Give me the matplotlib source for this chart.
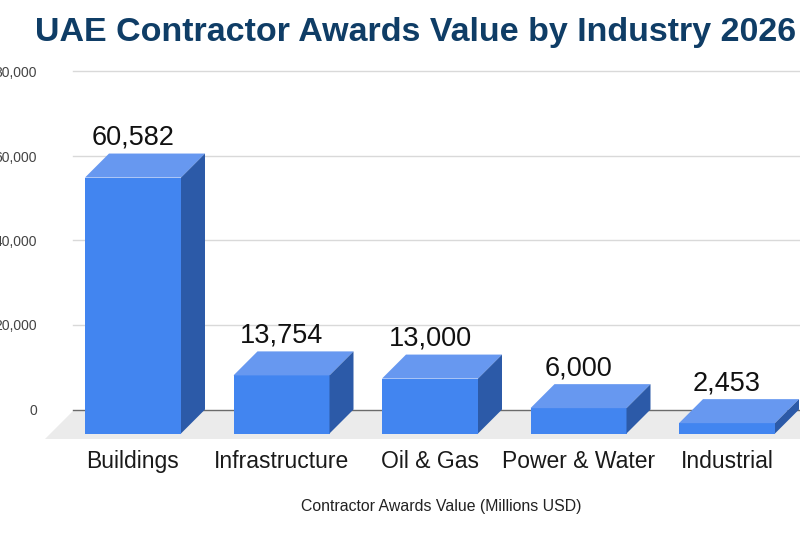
#!/usr/bin/env python3
"""UAE contractor awards by industry, drawn as a pseudo-3D column chart."""

import matplotlib

matplotlib.use("Agg")
import matplotlib.pyplot as plt
from matplotlib.patches import Polygon

INDUSTRIES = ["Buildings", "Infrastructure", "Oil & Gas", "Power & Water", "Industrial"]
AWARDS = [60582, 13754, 13000, 6000, 2453]
Y_TICKS = [0, 20000, 40000, 60000, 80000]

FRONT = "#4285f0"
TOP = "#6798f0"
SIDE = "#2c5aa8"
TITLE_COLOR = "#0f3d66"

WIDTH, HEIGHT = 800, 533
PX_PER_CAT = 148.5
PX_PER_UNIT = 84.5 / 20000
BAR_WIDTH = 96 / PX_PER_CAT
# extrusion of the columns, 24 px both ways
DX = 24 / PX_PER_CAT
DY = 24 / PX_PER_UNIT

plt.rcParams["font.family"] = ["Liberation Sans", "DejaVu Sans"]


def draw_column(ax, x, value):
    left, right = x - BAR_WIDTH / 2, x + BAR_WIDTH / 2
    ax.bar(x, value, width=BAR_WIDTH, bottom=-DY, color=FRONT, zorder=3, clip_on=False)
    front_top = value - DY
    ax.add_patch(Polygon(
        [(left, front_top), (right, front_top), (right + DX, value), (left + DX, value)],
        closed=True, facecolor=TOP, edgecolor="none", zorder=3, clip_on=False,
    ))
    ax.add_patch(Polygon(
        [(right, -DY), (right + DX, 0), (right + DX, value), (right, front_top)],
        closed=True, facecolor=SIDE, edgecolor="none", zorder=3, clip_on=False,
    ))


def main():
    fig = plt.figure(figsize=(WIDTH / 100, HEIGHT / 100), dpi=100)
    # plot area: x 73-800 px, zero line at y=409.5 px, 80,000 at y=71.5 px
    ax = fig.add_axes([73 / WIDTH, 1 - 409.5 / HEIGHT, 727 / WIDTH, 338 / HEIGHT])
    ax.set_xlim((73 - 133) / PX_PER_CAT, (800 - 133) / PX_PER_CAT)
    ax.set_ylim(0, 80000)
    ax.patch.set_visible(False)
    for spine in ax.spines.values():
        spine.set_visible(False)

    for tick in Y_TICKS:
        color = "#6b6b6b" if tick == 0 else "#d9d9d9"
        ax.axhline(tick, color=color, linewidth=1.0, zorder=1, clip_on=False)

    # grey floor under the columns
    x0, x1 = ax.get_xlim()
    floor_y = -29 / PX_PER_UNIT
    ax.add_patch(Polygon(
        [(x0, -1.5 / PX_PER_UNIT), (x1, -1.5 / PX_PER_UNIT), (x1, floor_y), (x0 - 28 / PX_PER_CAT, floor_y)],
        closed=True, facecolor="#ebebeb", edgecolor="none", zorder=0, clip_on=False,
    ))

    for i, value in enumerate(AWARDS):
        draw_column(ax, i, value)
        ax.annotate(f"{value:,}", (i, value), xytext=(0, 3), textcoords="offset pixels",
                    ha="center", va="bottom", fontsize=19.5, color="#111111",
                    annotation_clip=False, zorder=4)

    ax.set_xticks(range(len(INDUSTRIES)))
    ax.set_xticklabels(INDUSTRIES, fontsize=16.5, color="#1a1a1a")
    ax.tick_params(axis="x", length=0, pad=29.5)
    ax.set_yticks(Y_TICKS)
    ax.set_yticklabels([f"{t:,}" for t in Y_TICKS], fontsize=10, color="#444444")
    ax.tick_params(axis="y", length=0, pad=26)

    fig.text(441 / WIDTH, 1 - 506 / HEIGHT, "Contractor Awards Value (Millions USD)",
             ha="center", va="center", fontsize=11.4, color="#222222")
    fig.text(416 / WIDTH, 1 - 33 / HEIGHT, "UAE Contractor Awards Value by Industry 2026",
             ha="center", va="center", fontsize=24.45, fontweight="bold", color=TITLE_COLOR)

    fig.savefig("out.png", dpi=100)
    plt.close(fig)


if __name__ == "__main__":
    main()
